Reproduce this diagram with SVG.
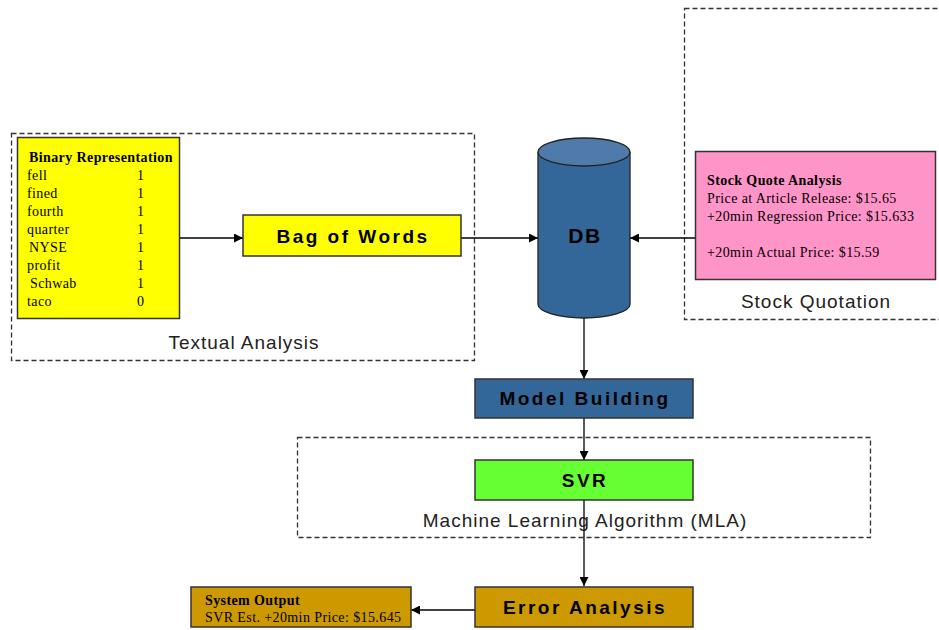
<svg xmlns="http://www.w3.org/2000/svg" width="939" height="630" viewBox="0 0 939 630">
<defs>
<marker id="arr" viewBox="0 0 10 10" refX="10" refY="5" markerWidth="9" markerHeight="9" markerUnits="userSpaceOnUse" orient="auto">
<path d="M0,0 L10,5 L0,10 z" fill="#000"/>
</marker>
<style>
.dash{fill:none;stroke:#333;stroke-width:1.3;stroke-dasharray:5,3}
.box{stroke:#333;stroke-width:1.5}
.lbl{font-family:"Liberation Sans",Arial,sans-serif;font-size:19px;fill:#222;letter-spacing:1px;text-anchor:middle}
.big{font-family:"Liberation Sans",Arial,sans-serif;font-size:19px;font-weight:bold;fill:#000;letter-spacing:2.5px;text-anchor:middle}
.ser{font-family:"Liberation Serif","Times New Roman",serif;font-size:14px;letter-spacing:0.4px;fill:#000}
.serb{font-family:"Liberation Serif","Times New Roman",serif;font-size:14px;letter-spacing:0.4px;font-weight:bold;fill:#000}
.con{stroke:#000;stroke-width:1.3;fill:none;marker-end:url(#arr)}
</style>
</defs>
<rect width="939" height="630" fill="#fff"/>

<g id="group-textual">
<rect class="dash" x="11.5" y="133.5" width="463" height="227"/>
<text class="lbl" x="244" y="349">Textual Analysis</text>
</g>
<g id="group-stock">
<rect class="dash" x="684.5" y="8.5" width="262" height="311"/>
<text class="lbl" x="816" y="308">Stock Quotation</text>
</g>
<g id="group-mla">
<rect class="dash" x="297.5" y="437.5" width="573" height="100"/>
<text class="lbl" x="585" y="527">Machine Learning Algorithm (MLA)</text>
</g>

<g id="connectors">
<line class="con" x1="180" y1="238" x2="243" y2="238"/>
<line class="con" x1="461" y1="238" x2="538" y2="238"/>
<line class="con" x1="695" y1="238" x2="630" y2="238"/>
<line class="con" x1="584" y1="318" x2="584" y2="379"/>
<line class="con" x1="584" y1="418" x2="584" y2="460"/>
<line class="con" x1="584" y1="500" x2="584" y2="586"/>
<line class="con" x1="475" y1="610" x2="411" y2="610"/>
</g>

<g id="binary">
<rect class="box" x="17.5" y="137.5" width="162" height="181" fill="#ffff00"/>
<text class="serb" x="29" y="162">Binary Representation</text>
<text class="ser" x="27" y="180">fell</text><text class="ser" x="137" y="180">1</text>
<text class="ser" x="27" y="198">fined</text><text class="ser" x="137" y="198">1</text>
<text class="ser" x="27" y="216">fourth</text><text class="ser" x="137" y="216">1</text>
<text class="ser" x="27" y="234">quarter</text><text class="ser" x="137" y="234">1</text>
<text class="ser" x="29" y="252">NYSE</text><text class="ser" x="137" y="252">1</text>
<text class="ser" x="27" y="270">profit</text><text class="ser" x="137" y="270">1</text>
<text class="ser" x="30" y="288">Schwab</text><text class="ser" x="137" y="288">1</text>
<text class="ser" x="27" y="306">taco</text><text class="ser" x="137" y="306">0</text>
</g>

<g id="bag">
<rect class="box" x="243" y="215" width="218" height="41" fill="#ffff00"/>
<text class="big" x="353" y="243">Bag of Words</text>
</g>

<g id="db">
<path d="M538,152 L538,304 A46,14 0 0 0 630,304 L630,152" fill="#336699" stroke="#222" stroke-width="1.3"/>
<ellipse cx="584" cy="152" rx="46" ry="14" fill="#4f7aaa" stroke="#222" stroke-width="1.3"/>
<text class="big" x="585" y="243" style="font-size:21px;letter-spacing:1.5px">DB</text>
</g>

<g id="stockquote">
<rect class="box" x="695.5" y="151.5" width="240" height="128" fill="#ff94c8"/>
<text class="serb" x="707" y="185">Stock Quote Analysis</text>
<text class="ser" x="707" y="203">Price at Article Release: $15.65</text>
<text class="ser" x="707" y="221">+20min Regression Price: $15.633</text>
<text class="ser" x="707" y="257">+20min Actual Price: $15.59</text>
</g>

<g id="model">
<rect class="box" x="475" y="379" width="218" height="39" fill="#336699"/>
<text class="big" x="585" y="405">Model Building</text>
</g>

<g id="svr">
<rect class="box" x="475" y="460" width="218" height="40" fill="#66ff33"/>
<text class="big" x="585" y="487">SVR</text>
</g>

<g id="error">
<rect class="box" x="475" y="587" width="218" height="40" fill="#cc9900"/>
<text class="big" x="585" y="614">Error Analysis</text>
</g>

<g id="output">
<rect class="box" x="191" y="587" width="220" height="40" fill="#cc9900"/>
<text class="serb" x="205" y="605">System Output</text>
<text class="ser" x="205" y="622">SVR Est. +20min Price: $15.645</text>
</g>
</svg>
